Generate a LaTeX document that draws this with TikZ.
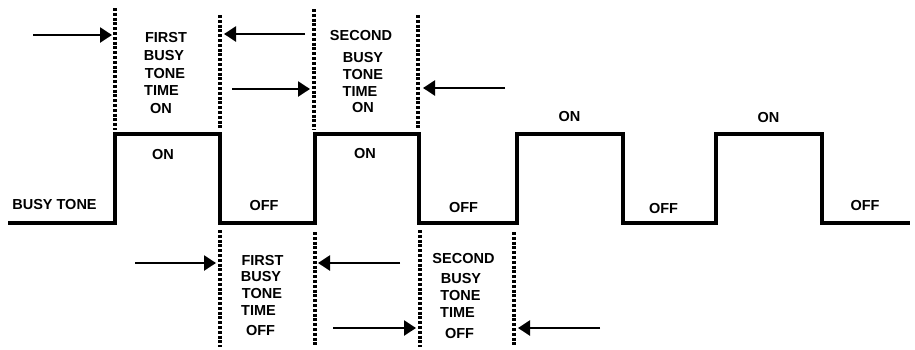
\documentclass[tikz,border=0pt]{standalone}
\usepackage{fontspec}
\setmainfont{Liberation Sans}
\usetikzlibrary{arrows.meta}
\tikzset{
  lbl/.style={inner sep=0pt, text height=10.4pt, text depth=0pt, font=\fontsize{14.5}{16}\selectfont\bfseries},
  wave/.style={line width=3.2pt, line join=miter},
  guide/.style={line width=3.4pt, dash pattern=on 3pt off 1.8pt},
  ptr/.style={line width=2.4pt, -{Triangle[length=12pt,width=15pt]}}
}
\begin{document}
\begin{tikzpicture}[x=1pt,y=-1pt]
\useasboundingbox (0,0) rectangle (915,349);
% waveform
\draw[wave] (8,223) -- (115,223) -- (115,134) -- (220,134) -- (220,223) -- (315,223) -- (315,134) -- (419,134) -- (419,223)
  -- (517,223) -- (517,134) -- (623,134) -- (623,223) -- (716,223) -- (716,134) -- (822,134) -- (822,223) -- (910,223);
% top guides
\coordinate (t1a) at (115,8);  \coordinate (t1b) at (115,130);
\coordinate (t2a) at (220,15); \coordinate (t2b) at (220,130);
\coordinate (t3a) at (314,9);  \coordinate (t3b) at (314,130);
\coordinate (t4a) at (418,15); \coordinate (t4b) at (418,130);
\draw[guide] (t1a) -- (t1b);
\draw[guide] (t2a) -- (t2b);
\draw[guide] (t3a) -- (t3b);
\draw[guide] (t4a) -- (t4b);
% bottom guides
\coordinate (b1a) at (220,230); \coordinate (b1b) at (220,347);
\coordinate (b2a) at (315,232); \coordinate (b2b) at (315,347);
\coordinate (b3a) at (420,230); \coordinate (b3b) at (420,347);
\coordinate (b4a) at (514,232); \coordinate (b4b) at (514,347);
\draw[guide] (b1a) -- (b1b);
\draw[guide] (b2a) -- (b2b);
\draw[guide] (b3a) -- (b3b);
\draw[guide] (b4a) -- (b4b);
% arrows top
\coordinate (a1s) at (33,35);  \coordinate (a1e) at (112,35);
\coordinate (a2s) at (305,34); \coordinate (a2e) at (224,34);
\coordinate (a3s) at (232,89); \coordinate (a3e) at (310,89);
\coordinate (a4s) at (505,88); \coordinate (a4e) at (423,88);
\draw[ptr] (a1s) -- (a1e);
\draw[ptr] (a2s) -- (a2e);
\draw[ptr] (a3s) -- (a3e);
\draw[ptr] (a4s) -- (a4e);
% arrows bottom
\coordinate (a5s) at (135,263); \coordinate (a5e) at (216,263);
\coordinate (a6s) at (400,263); \coordinate (a6e) at (318,263);
\coordinate (a7s) at (333,328); \coordinate (a7e) at (416,328);
\coordinate (a8s) at (600,328); \coordinate (a8e) at (518,328);
\draw[ptr] (a5s) -- (a5e);
\draw[ptr] (a6s) -- (a6e);
\draw[ptr] (a7s) -- (a7e);
\draw[ptr] (a8s) -- (a8e);
% top block 1
\node[lbl] (f1) at (166,37) {FIRST};
\node[lbl] (f2) at (164,55) {BUSY};
\node[lbl] (f3) at (165,73) {TONE};
\node[lbl] (f4) at (161.5,90) {TIME};
\node[lbl] (f5) at (161,108) {ON};
% top block 2
\node[lbl] (s1) at (361,35) {SECOND};
\node[lbl] (s2) at (363,57) {BUSY};
\node[lbl] (s3) at (363,74) {TONE};
\node[lbl] (s4) at (360,91) {TIME};
\node[lbl] (s5) at (363,107) {ON};
% level labels
\node[lbl] (on1) at (163,154) {ON};
\node[lbl] (on2) at (365,153) {ON};
\node[lbl] (on3) at (569.5,116) {ON};
\node[lbl] (on4) at (768.5,117) {ON};
\node[lbl] (bt) at (54.5,204) {BUSY TONE};
\node[lbl] (off1) at (264,205) {OFF};
\node[lbl] (off2) at (463.5,207) {OFF};
\node[lbl] (off3) at (663.5,208) {OFF};
\node[lbl] (off4) at (865,205) {OFF};
% bottom block 1
\node[lbl] (g1) at (262.5,260) {FIRST};
\node[lbl] (g2) at (261,276) {BUSY};
\node[lbl] (g3) at (262,293) {TONE};
\node[lbl] (g4) at (258.5,310) {TIME};
\node[lbl] (g5) at (260.5,330) {OFF};
% bottom block 2
\node[lbl] (h1) at (463.5,258) {SECOND};
\node[lbl] (h2) at (461,278) {BUSY};
\node[lbl] (h3) at (460.5,295) {TONE};
\node[lbl] (h4) at (457.5,312) {TIME};
\node[lbl] (h5) at (459.5,333) {OFF};
\end{tikzpicture}
\end{document}
